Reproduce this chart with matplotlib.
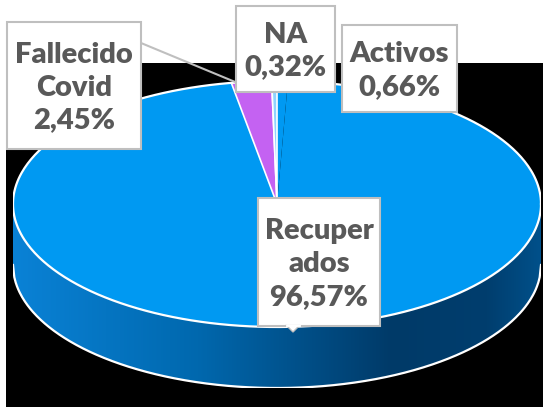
import numpy as np
import matplotlib.pyplot as plt
from matplotlib.patches import Rectangle, Polygon
from matplotlib.colors import LinearSegmentedColormap

# data, in drawing order (clockwise from 12 o'clock)
categories = ["Activos", "Recuperados", "Fallecido Covid", "NA"]
values = [0.66, 96.57, 2.45, 0.32]
labelLines = ["Activos\n0,66%", "Recuper\nados\n96,57%", "Fallecido\nCovid\n2,45%", "NA\n0,32%"]
sliceColors = ["#0099F2", "#0099F2", "#C462F2", "#8FD3FF"]

W, H = 543, 410
fig = plt.figure(figsize=(W / 100, H / 100), dpi=100)
fig.patch.set_facecolor("white")

# background axes in pixel coordinates
bg = fig.add_axes([0, 0, 1, 1], zorder=0)
bg.set_xlim(0, W)
bg.set_ylim(H, 0)
bg.axis("off")
bg.add_patch(Rectangle((6, 64), 537, 344, facecolor="black", edgecolor="none"))

# pie axes: unit circle stretched into an ellipse, with room for the side
cx, cy, a, b, depth = 277, 205, 264, 123, 61
d = depth / b
pa = fig.add_axes([(cx - a) / W, (H - (cy + b + depth)) / H, 2 * a / W, (2 * b + depth) / H], zorder=1)
pa.axis("off")

# top face
wedges, _ = pa.pie(
    values,
    colors=sliceColors,
    startangle=90,
    counterclock=False,
    radius=1,
    wedgeprops={"linewidth": 0},
)
for w in wedges:
    w.set_zorder(3)
for i in [2, 3]:
    wedges[i].set_edgecolor("white")
    wedges[i].set_linewidth(1.2)

# side of the 3D pie with a horizontal gradient
xs = np.linspace(-1, 1, 400)
top = -np.sqrt(np.clip(1 - xs ** 2, 0, 1))
sidePoly = np.vstack([np.column_stack([xs, top]), np.column_stack([xs[::-1], top[::-1] - d])])
clip = Polygon(sidePoly, closed=True, facecolor="none", edgecolor="none")
pa.add_patch(clip)
sideCmap = LinearSegmentedColormap.from_list(
    "side", [(0, "#0A82D6"), (0.35, "#0068AE"), (0.72, "#003A68"), (0.9, "#003E6E"), (1, "#00508A")]
)
grad = pa.imshow(
    np.linspace(0, 1, 256)[None, :],
    cmap=sideCmap,
    extent=(-1, 1, -1 - d, 0),
    aspect="auto",
    zorder=1,
)
grad.set_clip_path(clip)
pa.plot(xs, top - d, color="white", lw=1.6, zorder=2)

t = np.linspace(0, 2 * np.pi, 500)
pa.plot(np.cos(t), np.sin(t), color="white", lw=1.6, zorder=4)
pa.set_aspect("auto")
pa.set_xlim(-1, 1)
pa.set_ylim(-1 - d, 1)

# label overlay in pixel coordinates
ov = fig.add_axes([0, 0, 1, 1], zorder=2)
ov.set_xlim(0, W)
ov.set_ylim(H, 0)
ov.axis("off")
ov.patch.set_alpha(0)

boxes = {
    "Activos": (342, 26, 115, 87),
    "Recuperados": (258, 199, 122, 128),
    "Fallecido Covid": (7, 23, 134, 127),
    "NA": (236, 7, 99, 86),
}
ov.plot([141, 240], [44, 85], color="#BFBFBF", lw=1.5, zorder=1)
for cat, txt in zip(categories, labelLines):
    x0, y0, bw, bh = boxes[cat]
    ov.add_patch(Rectangle((x0, y0), bw, bh, facecolor="white", edgecolor="#BFBFBF", lw=1.5, zorder=2))
    ov.text(
        x0 + bw / 2,
        y0 + bh / 2 + 1,
        txt,
        ha="center",
        va="center",
        fontsize=21,
        fontweight="heavy",
        family="Lato",
        color="#595959",
        linespacing=1.32,
        zorder=3,
    )
ov.add_patch(Polygon([[286, 326], [293, 333], [300, 326]], closed=True, facecolor="white", edgecolor="#BFBFBF", lw=1, zorder=2))
ov.plot([287, 299], [326, 326], color="white", lw=2, zorder=2.5)

fig.savefig("out.png", dpi=100)
